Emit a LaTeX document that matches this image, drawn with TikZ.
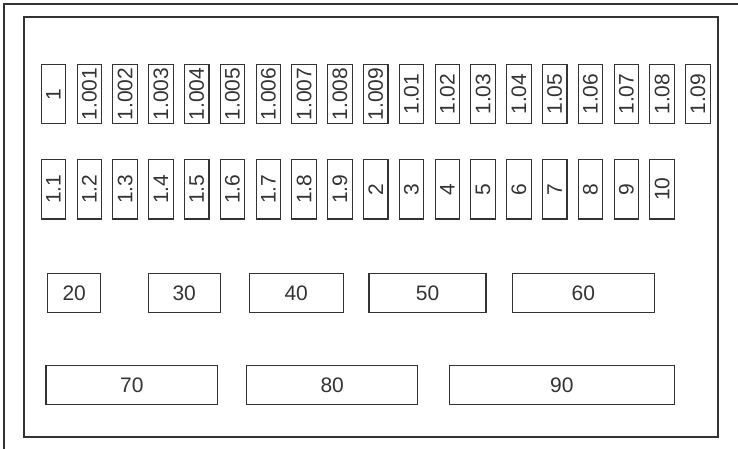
\documentclass[tikz,border=0pt]{standalone}
\usepackage{fontspec}
\setmainfont{Liberation Sans}
\definecolor{ink}{HTML}{333333}
\begin{document}
\begin{tikzpicture}[x=1pt, y=-1pt, line width=1.1pt, draw=ink, text=ink,
    font=\fontsize{21}{24}\selectfont,
    vbox/.style={draw, rotate=90, inner sep=0pt, minimum width=59.5pt, minimum height=24.5pt},
    hbox/.style={draw, inner sep=0pt, minimum height=39pt}]
    \useasboundingbox (0,0) rectangle (738,449);

    % Outer frame (top and left edge) and inner panel
    \draw (738,4) -- (4,4) -- (4,449);
    \draw (24,17) rectangle (718,437);

    % First rank with nineteen upright boxes called a_1 ... a_19
    \node[vbox] (a_1) at (53.5,94.2) {1};
    \node[vbox] (a_2) at (89.3,94.2) {1.001};
    \node[vbox] (a_3) at (125.1,94.2) {1.002};
    \node[vbox] (a_4) at (160.9,94.2) {1.003};
    \node[vbox] (a_5) at (196.7,94.2) {1.004};
    \node[vbox] (a_6) at (232.5,94.2) {1.005};
    \node[vbox] (a_7) at (268.3,94.2) {1.006};
    \node[vbox] (a_8) at (304.1,94.2) {1.007};
    \node[vbox] (a_9) at (339.9,94.2) {1.008};
    \node[vbox] (a_10) at (375.7,94.2) {1.009};
    \node[vbox] (a_11) at (411.5,94.2) {1.01};
    \node[vbox] (a_12) at (447.3,94.2) {1.02};
    \node[vbox] (a_13) at (483.1,94.2) {1.03};
    \node[vbox] (a_14) at (518.9,94.2) {1.04};
    \node[vbox] (a_15) at (554.7,94.2) {1.05};
    \node[vbox] (a_16) at (590.5,94.2) {1.06};
    \node[vbox] (a_17) at (626.3,94.2) {1.07};
    \node[vbox] (a_18) at (662.1,94.2) {1.08};
    \node[vbox] (a_19) at (697.9,94.2) {1.09};

    % Second rank with eighteen upright boxes called b_1 ... b_18
    \node[vbox] (b_1) at (53.5,189.2) {1.1};
    \node[vbox] (b_2) at (89.3,189.2) {1.2};
    \node[vbox] (b_3) at (125.1,189.2) {1.3};
    \node[vbox] (b_4) at (160.9,189.2) {1.4};
    \node[vbox] (b_5) at (196.7,189.2) {1.5};
    \node[vbox] (b_6) at (232.5,189.2) {1.6};
    \node[vbox] (b_7) at (268.3,189.2) {1.7};
    \node[vbox] (b_8) at (304.1,189.2) {1.8};
    \node[vbox] (b_9) at (339.9,189.2) {1.9};
    \node[vbox] (b_10) at (375.7,189.2) {2};
    \node[vbox] (b_11) at (411.5,189.2) {3};
    \node[vbox] (b_12) at (447.3,189.2) {4};
    \node[vbox] (b_13) at (483.1,189.2) {5};
    \node[vbox] (b_14) at (518.9,189.2) {6};
    \node[vbox] (b_15) at (554.7,189.2) {7};
    \node[vbox] (b_16) at (590.5,189.2) {8};
    \node[vbox] (b_17) at (626.3,189.2) {9};
    \node[vbox] (b_18) at (662.1,189.2) {10};

    % Third rank with five flat boxes called c_1 ... c_5
    \node[hbox, minimum width=53pt] (c_1) at (74.2,292.8) {20};
    \node[hbox, minimum width=71.7pt] (c_2) at (184.2,292.8) {30};
    \node[hbox, minimum width=94.3pt] (c_3) at (296.2,292.8) {40};
    \node[hbox, minimum width=117pt] (c_4) at (427.5,292.8) {50};
    \node[hbox, minimum width=142pt] (c_5) at (583.3,292.8) {60};

    % Fourth rank with three long boxes called d_1 ... d_3
    \node[hbox, minimum width=171.7pt] (d_1) at (131.8,385.3) {70};
    \node[hbox, minimum width=171pt] (d_2) at (332.2,385.3) {80};
    \node[hbox, minimum width=225pt] (d_3) at (561.8,385.3) {90};

\end{tikzpicture}
\end{document}
